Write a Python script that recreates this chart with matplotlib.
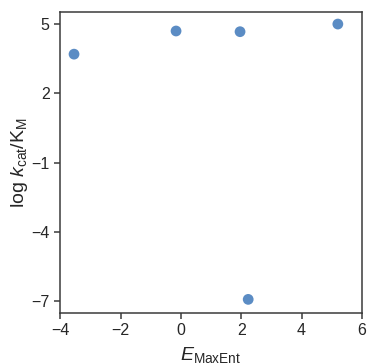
import matplotlib
matplotlib.use("Agg")
import matplotlib.pyplot as plt

# values
e_maxent = [-3.54, -0.16, 1.96, 5.2, 2.23]
log_kcat_km = [3.68, 4.68, 4.65, 4.98, -6.91]
xticks = [-4, -2, 0, 2, 4, 6]
yticks = [5, 2, -1, -4, -7]

plt.rcParams['font.family'] = ['Liberation Sans', 'DejaVu Sans']
plt.rcParams['mathtext.fontset'] = 'custom'
plt.rcParams['mathtext.rm'] = 'Liberation Sans'
plt.rcParams['mathtext.it'] = 'Liberation Sans:italic'

fig, ax = plt.subplots(figsize=(3.69, 3.64), dpi=100)
fig.subplots_adjust(left=0.163, right=0.981, top=0.967, bottom=0.14)

ax.scatter(e_maxent, log_kcat_km, s=60, color='#5b8cc4', edgecolors='none', zorder=3)

ax.set_xlim(-4, 6)
ax.set_ylim(-7.5, 5.5)
ax.set_xticks(xticks)
ax.set_yticks(yticks)
ax.set_xticklabels([str(t).replace('-', '\u2212') for t in xticks])
ax.set_yticklabels([str(t).replace('-', '\u2212') for t in yticks])

for s in ax.spines.values():
    s.set_color('#3a3a3a')
    s.set_linewidth(1.1)
ax.tick_params(axis='both', colors='#3a3a3a', labelcolor='#262626', labelsize=11.5,
               length=4, width=1.1, direction='out')

ax.set_xlabel(r'$E_{\rm MaxEnt}$', fontsize=14, color='#262626', labelpad=5)
ax.set_ylabel(r'log $k_{\rm cat}$/K$_{\rm M}$', fontsize=14, color='#262626', labelpad=1)

fig.savefig('out.png', dpi=100)
